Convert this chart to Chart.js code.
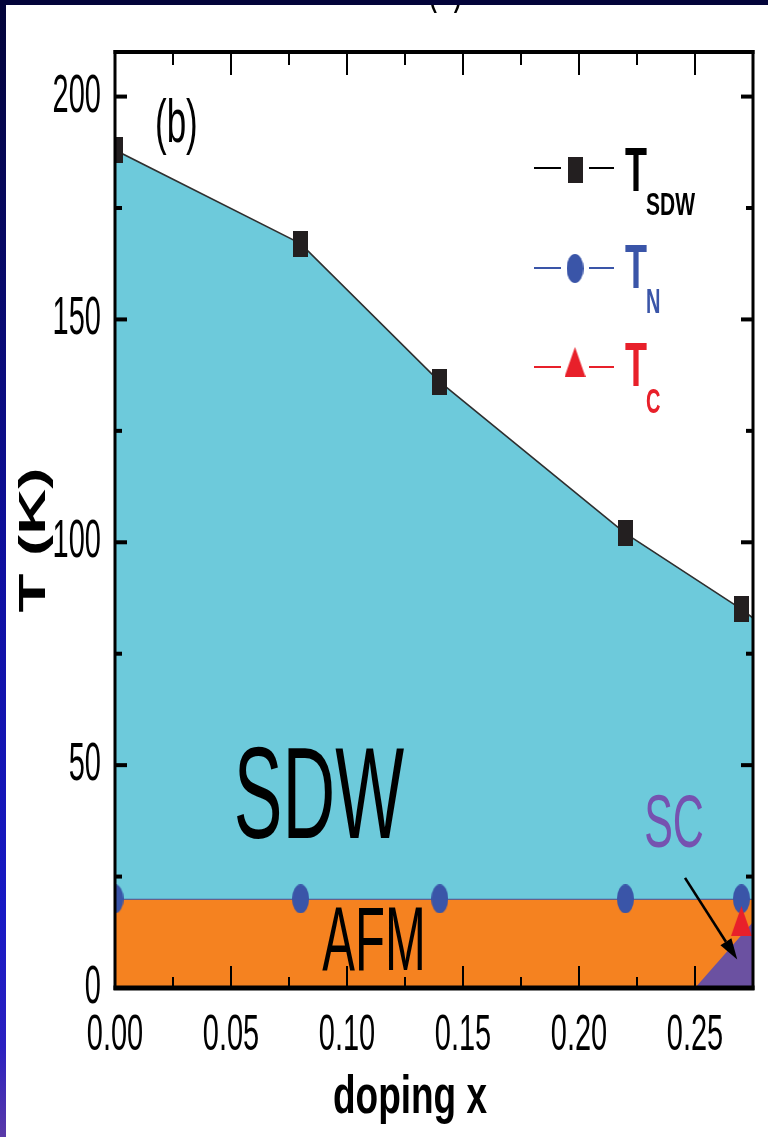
<!DOCTYPE html>
<html>
<head>
<meta charset="utf-8">
<script src="https://cdn.jsdelivr.net/npm/chart.js@4.4.1/dist/chart.umd.min.js"></script>
<style>
  html, body { margin: 0; padding: 0; width: 768px; height: 1137px; overflow: hidden; background: #03043a; }
  #band { position: absolute; left: 0; top: 5px; width: 6px; height: 1132px;
          background: linear-gradient(to bottom, #03043a 0%, #080a6c 25%, #0f10a0 50%, #1719c4 80%, #2a20c0 92%, #5a3aa8 100%); }
  #panel { position: absolute; left: 6px; top: 5px; width: 762px; height: 1132px; background: #ffffff; }
  #c { position: absolute; left: 0; top: 0; }
</style>
</head>
<body>
<div id="band"></div>
<div id="panel"></div>
<canvas id="c" width="768" height="1137"></canvas>
<script>
// ---- phase diagram data ----
const dopingX = [0, 0.08, 0.14, 0.22, 0.27];     // doping x of the samples
const tSDW    = [188, 167, 136, 102, 85];          // T_SDW (K)
const tN      = [20, 20, 20, 20, 20];              // T_N (K)
const tcX     = [0.27];                            // doping of the superconducting sample
const tC      = [15];                              // T_c (K)

// phase boundaries continued to the frame edge
const sdwEdgeX = 0.275, sdwEdgeT = 83;
const afmX = [0, 0.275],  afmT = [20, 20];
const scX  = [0.25, 0.275], scT = [0, 14.8];
const arrowFrom = [0.2457, 24.7], arrowTo = [0.2682, 6.4];

// axis ticks
const xMajor = [0, 0.05, 0.10, 0.15, 0.20, 0.25];
const xLabels = ['0.00', '0.05', '0.10', '0.15', '0.20', '0.25'];
const xMinor = [0.025, 0.075, 0.125, 0.175, 0.225];
const yMajor = [0, 50, 100, 150, 200];
const yLabels = ['0', '50', '100', '150', '200'];
const yMinor = [25, 75, 125, 175];

const COL = {
  sdw: '#6dcadb', afm: '#f58220', sc: '#6b51a1', scText: '#7652b0',
  blue: '#3a55a8', red: '#e8202a', black: '#231f20'
};
const FONT = '"Liberation Sans", Arial, Helvetica, sans-serif';

function marker(w, h, draw) {
  const c = document.createElement('canvas');
  c.width = w; c.height = h;
  draw(c.getContext('2d'), w, h);
  return c;
}
const squareMark = marker(15, 26, (g, w, h) => { g.fillStyle = COL.black; g.fillRect(0, 0, w, h); });
const ellipseMark = marker(17, 29, (g, w, h) => {
  g.fillStyle = COL.blue; g.beginPath(); g.ellipse(w / 2, h / 2, w / 2, h / 2, 0, 0, Math.PI * 2); g.fill();
});
const triMark = marker(21, 30, (g, w, h) => {
  g.fillStyle = COL.red; g.beginPath(); g.moveTo(w / 2, 0); g.lineTo(w, h); g.lineTo(0, h); g.closePath(); g.fill();
});

const pts = (xs, ys) => xs.map((x, i) => ({ x: x, y: ys[i] }));

// stretched text helper
function sText(ctx, str, x, y, size, weight, color, sy, align) {
  ctx.save();
  ctx.translate(x, y);
  ctx.scale(1, sy);
  ctx.font = `${weight} ${size}px ${FONT}`;
  ctx.fillStyle = color;
  ctx.textAlign = align || 'left';
  ctx.textBaseline = 'alphabetic';
  ctx.fillText(str, 0, 0);
  ctx.restore();
}

const decor = {
  id: 'decor',
  afterDatasetsDraw(chart) {
    const ctx = chart.ctx;
    const xs = chart.scales.x, ys = chart.scales.y;
    const a = chart.chartArea;

    // arrow pointing at the SC dome
    const x1 = xs.getPixelForValue(arrowFrom[0]), y1 = ys.getPixelForValue(arrowFrom[1]);
    const x2 = xs.getPixelForValue(arrowTo[0]), y2 = ys.getPixelForValue(arrowTo[1]);
    const ang = Math.atan2(y2 - y1, x2 - x1);
    const hl = 21, hw = 6.5;
    const bx = x2 - hl * Math.cos(ang), by = y2 - hl * Math.sin(ang);
    ctx.save();
    ctx.strokeStyle = '#000'; ctx.fillStyle = '#000'; ctx.lineWidth = 2.6;
    ctx.beginPath(); ctx.moveTo(x1, y1); ctx.lineTo(bx, by); ctx.stroke();
    ctx.beginPath();
    ctx.moveTo(x2, y2);
    ctx.lineTo(bx + hw * Math.sin(ang), by - hw * Math.cos(ang));
    ctx.lineTo(bx - hw * Math.sin(ang), by + hw * Math.cos(ang));
    ctx.closePath(); ctx.fill();
    ctx.restore();

    // frame
    ctx.save();
    ctx.fillStyle = '#000';
    ctx.fillRect(a.left - 1.5, a.top - 2, 3, a.bottom - a.top + 4);
    ctx.fillRect(a.right - 1.5, a.top - 2, 3, a.bottom - a.top + 4);
    ctx.fillRect(a.left - 1.5, a.top - 2, a.right - a.left + 3, 4);
    ctx.fillRect(a.left - 1.5, a.bottom - 2.5, a.right - a.left + 3, 5);

    // inward ticks
    xMajor.forEach(v => {
      const p = xs.getPixelForValue(v);
      ctx.fillRect(p - 1, a.bottom - 22, 2, 22);
      ctx.fillRect(p - 1, a.top, 2, 23);
    });
    xMinor.forEach(v => {
      const p = xs.getPixelForValue(v);
      ctx.fillRect(p - 1, a.bottom - 11, 2, 11);
      ctx.fillRect(p - 1, a.top, 2, 13);
    });
    yMajor.forEach(v => {
      const p = ys.getPixelForValue(v);
      ctx.fillRect(a.left, p - 2, 12, 4);
      ctx.fillRect(a.right - 12, p - 2, 12, 4);
    });
    yMinor.forEach(v => {
      const p = ys.getPixelForValue(v);
      ctx.fillRect(a.left, p - 2, 7, 4);
      ctx.fillRect(a.right - 7, p - 2, 7, 4);
    });
    ctx.restore();

    // tick labels
    xMajor.forEach((v, i) => sText(ctx, xLabels[i], xs.getPixelForValue(v), 1050, 29, 'normal', '#000', 1.7, 'center'));
    yMajor.forEach((v, i) => sText(ctx, yLabels[i], 101, ys.getPixelForValue(v) + 15, 29, 'normal', '#000', 1.85, 'right'));

    // axis titles
    sText(ctx, 'doping x', 410, 1113, 37, 'bold', '#000', 1.46, 'center');
    ctx.save();
    ctx.translate(45, 540);
    ctx.rotate(-Math.PI / 2);
    ctx.scale(1.72, 1);
    ctx.font = `bold 37px ${FONT}`;
    ctx.fillStyle = '#000';
    ctx.textAlign = 'center';
    ctx.textBaseline = 'alphabetic';
    ctx.fillText('T (K)', 0, 0);
    ctx.restore();

    // phase labels
    sText(ctx, '(b)', 155, 142, 35, 'normal', '#000', 1.73, 'left');
    sText(ctx, 'SDW', 319, 838, 73, 'normal', '#000', 1.78, 'center');
    sText(ctx, 'AFM', 374, 970, 49, 'normal', '#000', 1.85, 'center');
    sText(ctx, 'SC', 674, 847, 43, 'normal', COL.scText, 1.74, 'center');

    // legend
    const rows = [
      { y: 168, color: '#000', mark: squareMark, my: 170, t: 191, sub: 'SDW', subY: 215, subSize: 21, subS: 1.45 },
      { y: 268, color: COL.blue, mark: ellipseMark, my: 268.5, t: 288, sub: 'N', subY: 313, subSize: 20, subS: 1.75 },
      { y: 367, color: COL.red, mark: triMark, my: 362, t: 386, sub: 'C', subY: 413, subSize: 20, subS: 1.75 }
    ];
    rows.forEach(r => {
      ctx.save();
      ctx.strokeStyle = r.color; ctx.lineWidth = 2;
      ctx.beginPath();
      ctx.moveTo(534, r.y); ctx.lineTo(561, r.y);
      ctx.moveTo(589, r.y); ctx.lineTo(614, r.y);
      ctx.stroke();
      ctx.drawImage(r.mark, 575 - r.mark.width / 2, r.my - r.mark.height / 2);
      ctx.restore();
      sText(ctx, 'T', 625, r.t, 36, 'bold', r.color, 1.75, 'left');
      sText(ctx, r.sub, 646, r.subY, r.subSize, 'bold', r.color, r.subS, 'left');
    });

    // panel caption from the figure above, cut by the border
    ctx.save();
    ctx.beginPath(); ctx.rect(0, 5, 768, 40); ctx.clip();
    sText(ctx, '(a)', 427, 2, 30, 'normal', '#000', 1.8, 'left');
    ctx.restore();
  }
};

new Chart(document.getElementById('c'), {
  type: 'line',
  data: {
    datasets: [
      { label: 'AFM', data: pts(afmX, afmT), fill: 'origin', backgroundColor: COL.afm,
        borderColor: COL.blue, borderWidth: 2, pointRadius: 0, order: 6 },
      { label: 'SDW', data: pts(dopingX, tSDW).concat([{ x: sdwEdgeX, y: sdwEdgeT }]), fill: { value: 20 },
        backgroundColor: COL.sdw, borderColor: '#2f2f2f', borderWidth: 1.6, pointRadius: 0, order: 5 },
      { label: 'SC', data: pts(scX, scT), fill: 'origin', backgroundColor: COL.sc,
        borderWidth: 0, borderColor: COL.sc, pointRadius: 0, order: 4 },
      { label: 'T_SDW', data: pts(dopingX, tSDW), showLine: false, pointStyle: squareMark,
        pointRadius: 8, clip: 0, order: 3 },
      { label: 'T_N', data: pts(dopingX, tN), showLine: false, pointStyle: ellipseMark,
        pointRadius: 8, clip: 0, order: 2 },
      { label: 'T_C', data: pts(tcX, tC), showLine: false, pointStyle: triMark,
        pointRadius: 8, clip: 0, order: 1 }
    ]
  },
  options: {
    responsive: false,
    animation: false,
    devicePixelRatio: 1,
    events: [],
    layout: { padding: { left: 115, top: 52, right: 15, bottom: 149 } },
    scales: {
      x: { type: 'linear', min: 0, max: 0.275, display: false },
      y: { type: 'linear', min: 0, max: 210, display: false }
    },
    plugins: { legend: { display: false }, tooltip: { enabled: false } }
  },
  plugins: [decor]
});
</script>
</body>
</html>
